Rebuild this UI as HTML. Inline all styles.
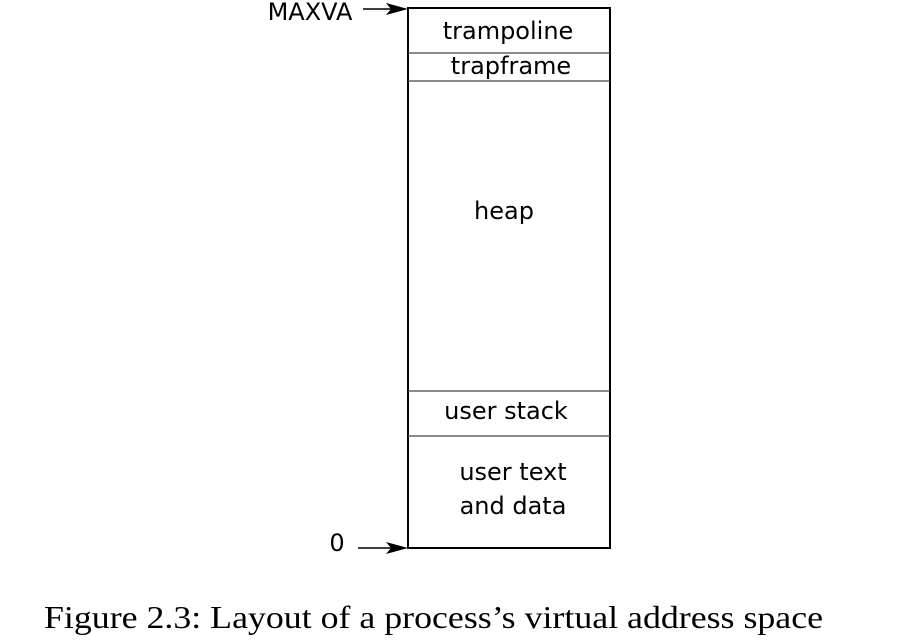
<!DOCTYPE html>
<html><head><meta charset="utf-8"><style>
html,body{margin:0;padding:0;background:#fff;}
svg{display:block;}
</style></head><body>
<svg width="914" height="643" xmlns="http://www.w3.org/2000/svg">
<g font-family="DejaVu Sans, sans-serif" font-size="24" fill="#000" text-anchor="middle">
<rect x="408" y="8" width="202" height="540" fill="none" stroke="#000" stroke-width="2"/>
<line x1="408" y1="53" x2="610" y2="53" stroke="#444" stroke-width="1.3"/>
<line x1="408" y1="81" x2="610" y2="81" stroke="#444" stroke-width="1.3"/>
<line x1="408" y1="391" x2="610" y2="391" stroke="#444" stroke-width="1.3"/>
<line x1="408" y1="436" x2="610" y2="436" stroke="#444" stroke-width="1.3"/>
<text x="508" y="39">trampoline</text>
<text x="511" y="74">trapframe</text>
<text x="504" y="219">heap</text>
<text x="506" y="419">user stack</text>
<text x="513" y="480">user text</text>
<text x="513" y="514">and data</text>
<text x="310" y="20" text-anchor="middle">MAXVA</text>
<text x="337" y="551">0</text>
<line x1="363" y1="9" x2="392" y2="9" stroke="#000" stroke-width="1.5"/>
<path d="M408,9 L386,3 L391,9 L386,15 Z" fill="#000"/>
<line x1="358" y1="548" x2="392" y2="548" stroke="#000" stroke-width="1.5"/>
<path d="M408,548 L386,542 L391,548 L386,554 Z" fill="#000"/>
</g>
<text x="44" y="628" font-family="Liberation Serif, serif" font-size="32" textLength="779" lengthAdjust="spacingAndGlyphs">Figure 2.3: Layout of a process’s virtual address space</text>
</svg>
</body></html>
